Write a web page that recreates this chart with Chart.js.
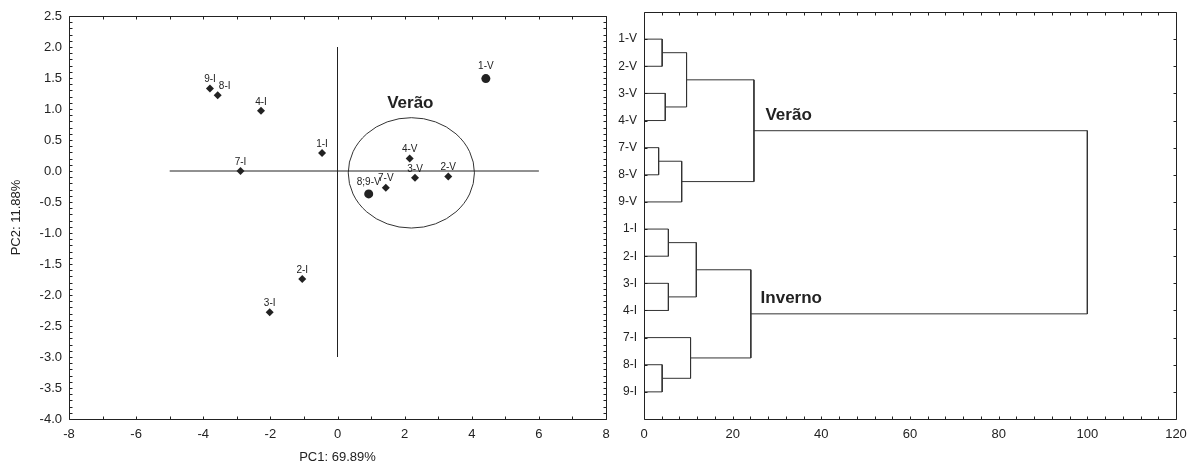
<!DOCTYPE html>
<html>
<head>
<meta charset="utf-8">
<script src="https://cdn.jsdelivr.net/npm/chart.js@4/dist/chart.umd.min.js"></script>
<style>
  html, body { margin: 0; padding: 0; background: #fff; overflow: hidden; }
  #wrap { position: relative; width: 1189px; height: 465px; }
  #c1 { position: absolute; left: 0; top: 0; }
  #c2 { position: absolute; left: 612px; top: 0; }
</style>
</head>
<body>
<div id="wrap">
  <canvas id="c1" width="612" height="465"></canvas>
  <canvas id="c2" width="577" height="465"></canvas>
</div>
<script>
// ---------- PCA scatter data ----------
const pcaLabels = ['9-I', '8-I', '4-I', '7-I', '1-I', '2-I', '3-I', '1-V', '4-V', '3-V', '2-V', '7-V', '8;9-V'];
const pc1 = [-3.80, -3.57, -2.28, -2.89, -0.46, -1.05, -2.02, 4.42, 2.15, 2.31, 3.30, 1.44, 0.93];
const pc2 = [1.33, 1.22, 0.97, 0.00, 0.29, -1.74, -2.28, 1.49, 0.20, -0.11, -0.09, -0.27, -0.37];
const bigPoints = ['1-V', '8;9-V'];
const hLineX = [-5, 6];        // horizontal reference line on PC2 = 0
const vLineY = [-3, 2];        // vertical reference line on PC1 = 0
const summerEllipse = [2.2, -0.03, 1.88, 0.89]; // cx, cy, rx, ry (data units)
const summerNote = ['Verão', 2.17, 1.09];

// ---------- Dendrogram data ----------
const leaves = ['1-V', '2-V', '3-V', '4-V', '7-V', '8-V', '9-V', '1-I', '2-I', '3-I', '4-I', '7-I', '8-I', '9-I'];
// merges: childA, childB, linkage distance; node ids >= leaves.length refer to earlier merges
const mergeA = [0, 2, 14, 4, 17, 16, 7, 9, 20, 12, 11, 22, 19];
const mergeB = [1, 3, 15, 5, 6, 18, 8, 10, 21, 13, 23, 24, 25];
const mergeH = [4.1, 4.8, 9.6, 3.3, 8.5, 24.8, 5.5, 5.5, 11.8, 4.1, 10.5, 24.1, 100];
const clusterNotes = [['Verão', 27.4, 3.79], ['Inverno', 26.3, 10.57]];

const FONT = "'Liberation Sans', Arial, sans-serif";
const INK = '#222';

// box + inward ticks plugin
const boxTicks = {
  id: 'boxTicks',
  afterDraw(chart, args, opts) {
    const { ctx, chartArea: a, scales } = chart;
    const xs = scales.x, ys = scales.y;
    ctx.save();
    ctx.strokeStyle = INK;
    ctx.lineWidth = 1;
    const L = Math.round(a.left) + 0.5, T = Math.round(a.top) + 0.5;
    const R = Math.round(a.right) + 0.5, B = Math.round(a.bottom) + 0.5;
    ctx.beginPath();
    ctx.rect(L, T, R - L, B - T);
    const len = opts.len;
    const xVals = [], yVals = [];
    let n = Math.round((opts.xMax - opts.xMin) / opts.xStep);
    for (let i = 0; i <= n; i++) xVals.push(opts.xMin + i * opts.xStep);
    n = Math.round((opts.yMax - opts.yMin) / opts.yStep);
    for (let i = 0; i <= n; i++) yVals.push(opts.yMin + i * opts.yStep);
    xVals.forEach(v => {
      const px = Math.round(xs.getPixelForValue(v)) + 0.5;
      ctx.moveTo(px, B); ctx.lineTo(px, B - len);
      ctx.moveTo(px, T); ctx.lineTo(px, T + len);
    });
    yVals.forEach(v => {
      const py = Math.round(ys.getPixelForValue(v)) + 0.5;
      ctx.moveTo(L, py); ctx.lineTo(L + len, py);
      ctx.moveTo(R, py); ctx.lineTo(R - len, py);
    });
    ctx.stroke();
    ctx.restore();
  }
};

// ---------- Left chart: PCA ----------
const pcaPoints = pcaLabels.map((l, i) => ({ x: pc1[i], y: pc2[i] }));

const pcaDecor = {
  id: 'pcaDecor',
  beforeDatasetsDraw(chart) {
    const { ctx, scales: { x, y } } = chart;
    const [cx, cy, rx, ry] = summerEllipse;
    const px = x.getPixelForValue(cx), py = y.getPixelForValue(cy);
    const prx = Math.abs(x.getPixelForValue(cx + rx) - px);
    const pry = Math.abs(y.getPixelForValue(cy + ry) - py);
    ctx.save();
    ctx.strokeStyle = '#333';
    ctx.lineWidth = 1;
    ctx.beginPath();
    ctx.ellipse(px, py, prx, pry, 0, 0, Math.PI * 2);
    ctx.stroke();
    ctx.fillStyle = INK;
    ctx.font = 'bold 17px ' + FONT;
    ctx.textAlign = 'center';
    ctx.textBaseline = 'middle';
    ctx.fillText(summerNote[0], x.getPixelForValue(summerNote[1]), y.getPixelForValue(summerNote[2]));
    ctx.restore();
  },
  afterDatasetsDraw(chart) {
    const { ctx } = chart;
    const meta = chart.getDatasetMeta(0);
    ctx.save();
    ctx.fillStyle = INK;
    ctx.font = '10px ' + FONT;
    ctx.textAlign = 'center';
    ctx.textBaseline = 'bottom';
    meta.data.forEach((el, i) => {
      const lab = pcaLabels[i];
      const shift = lab === '8-I' ? 7 : 0;
      const lift = bigPoints.includes(lab) ? 7 : 4;
      ctx.fillText(lab, el.x + shift, el.y - lift);
    });
    ctx.restore();
  }
};

new Chart(document.getElementById('c1'), {
  type: 'scatter',
  data: {
    datasets: [
      {
        data: pcaPoints,
        backgroundColor: INK,
        borderColor: INK,
        pointStyle: ctx => bigPoints.includes(pcaLabels[ctx.dataIndex]) ? 'circle' : 'rectRot',
        pointRadius: ctx => bigPoints.includes(pcaLabels[ctx.dataIndex]) ? 4.5 : 4,
        borderWidth: 0
      },
      {
        data: hLineX.map(v => ({ x: v, y: 0 })),
        showLine: true, pointRadius: 0, borderColor: INK, borderWidth: 1
      },
      {
        data: vLineY.map(v => ({ x: 0, y: v })),
        showLine: true, pointRadius: 0, borderColor: INK, borderWidth: 1
      }
    ]
  },
  options: {
    responsive: false,
    animation: false,
    events: [],
    layout: { padding: { top: 16, right: 6, left: 0, bottom: 0 } },
    plugins: {
      legend: { display: false },
      tooltip: { enabled: false },
      boxTicks: { xMin: -8, xMax: 8, xStep: 1, yMin: -4, yMax: 2.5, yStep: 0.1, len: 3 }
    },
    scales: {
      x: {
        type: 'linear', min: -8, max: 8,
        grid: { display: false, drawTicks: false },
        border: { display: false },
        ticks: { stepSize: 2, color: INK, font: { family: FONT, size: 13 }, padding: 8 },
        title: { display: true, text: 'PC1: 69.89%', color: INK, font: { family: FONT, size: 13 }, padding: { top: 0, bottom: 0 } },
        afterFit: s => { s.height = 46; s.paddingLeft = 0; s.paddingRight = 0; }
      },
      y: {
        type: 'linear', min: -4, max: 2.5,
        grid: { display: false, drawTicks: false },
        border: { display: false },
        ticks: { stepSize: 0.5, color: INK, font: { family: FONT, size: 13 }, padding: 7, callback: v => v.toFixed(1) },
        title: { display: true, text: 'PC2: 11.88%', color: INK, font: { family: FONT, size: 13 }, padding: { top: 9, bottom: 0 } },
        afterFit: s => { s.width = 69; s.paddingTop = 0; s.paddingBottom = 0; }
      }
    }
  },
  plugins: [boxTicks, pcaDecor]
});

// ---------- Right chart: dendrogram ----------
const nodeY = leaves.map((_, i) => i + 1);
const nodeH = leaves.map(() => 0);
const linkSets = [];
mergeA.forEach((a, k) => {
  const b = mergeB[k], h = mergeH[k];
  const ya = nodeY[a], yb = nodeY[b];
  linkSets.push({
    data: [{ x: nodeH[a], y: ya }, { x: h, y: ya }, { x: h, y: yb }, { x: nodeH[b], y: yb }],
    showLine: true, pointRadius: 0, borderColor: '#333', borderWidth: 1, tension: 0
  });
  nodeY.push((ya + yb) / 2);
  nodeH.push(h);
});

const dendroNotes = {
  id: 'dendroNotes',
  afterDatasetsDraw(chart) {
    const { ctx, scales: { x, y } } = chart;
    ctx.save();
    ctx.fillStyle = INK;
    ctx.font = 'bold 17px ' + FONT;
    ctx.textAlign = 'left';
    ctx.textBaseline = 'middle';
    clusterNotes.forEach(([t, vx, vy]) => ctx.fillText(t, x.getPixelForValue(vx), y.getPixelForValue(vy)));
    ctx.restore();
  }
};

new Chart(document.getElementById('c2'), {
  type: 'scatter',
  data: { datasets: linkSets },
  options: {
    responsive: false,
    animation: false,
    events: [],
    layout: { padding: { top: 12, right: 13, left: 0, bottom: 0 } },
    plugins: {
      legend: { display: false },
      tooltip: { enabled: false },
      boxTicks: { xMin: 0, xMax: 120, xStep: 4, yMin: 1, yMax: 14, yStep: 1, len: 3 }
    },
    scales: {
      x: {
        type: 'linear', min: 0, max: 120,
        grid: { display: false, drawTicks: false },
        border: { display: false },
        ticks: { stepSize: 20, color: INK, font: { family: FONT, size: 13 }, padding: 8 },
        afterFit: s => { s.height = 46; s.paddingLeft = 0; s.paddingRight = 0; }
      },
      y: {
        type: 'linear', min: 0, max: 15, reverse: true,
        grid: { display: false, drawTicks: false },
        border: { display: false },
        ticks: { stepSize: 1, color: INK, font: { family: FONT, size: 12 }, padding: 7,
                 callback: v => leaves[v - 1] || '' },
        afterFit: s => { s.width = 32; s.paddingTop = 0; s.paddingBottom = 0; }
      }
    }
  },
  plugins: [boxTicks, dendroNotes]
});
</script>
</body>
</html>
